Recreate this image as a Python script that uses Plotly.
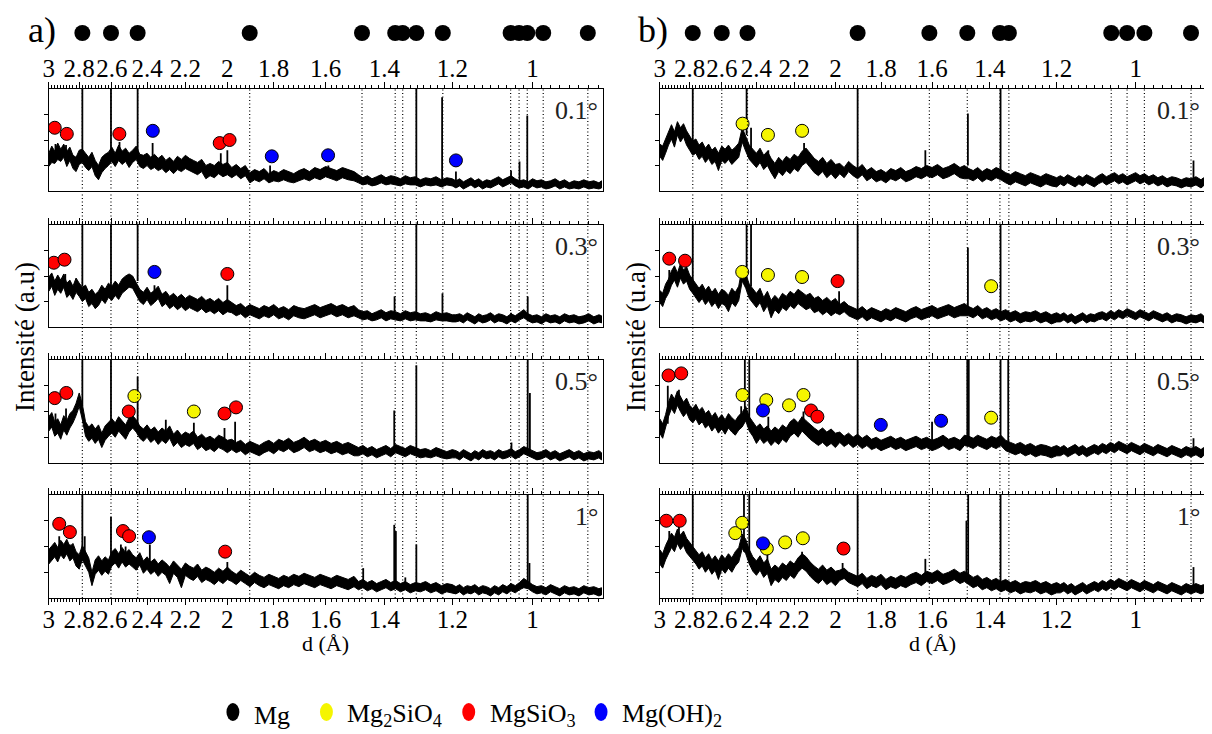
import math
import plotly.graph_objects as go

# ---------------- data ----------------
D_GRID = [
    3.00, 2.98, 2.96, 2.94, 2.92, 2.90, 2.88, 2.86, 2.84, 2.82, 2.80, 2.78, 2.76, 2.74, 2.72, 2.70, 2.68, 2.66, 2.64, 2.62, 2.60, 2.58, 2.56, 2.54, 2.52, 2.50,
    2.48, 2.46, 2.44, 2.42, 2.40, 2.38, 2.36, 2.34, 2.32, 2.30, 2.28, 2.26, 2.24, 2.22, 2.20, 2.18, 2.16, 2.14, 2.12, 2.10, 2.08, 2.06, 2.04, 2.02, 2.00,
    1.98, 1.96, 1.94, 1.92, 1.90, 1.88, 1.86, 1.84, 1.82, 1.80, 1.78, 1.76, 1.74, 1.72, 1.70, 1.68, 1.66, 1.64, 1.62, 1.60, 1.58, 1.56, 1.54, 1.52, 1.50,
    1.485, 1.47, 1.455, 1.44, 1.425, 1.41, 1.395, 1.38, 1.365, 1.35, 1.335, 1.32, 1.305, 1.29, 1.275, 1.26, 1.245, 1.23, 1.215, 1.20,
    1.19, 1.18, 1.17, 1.16, 1.15, 1.14, 1.13, 1.12, 1.11, 1.10, 1.09, 1.08, 1.07, 1.06, 1.05, 1.04, 1.03, 1.02, 1.01, 1.00,
    0.99, 0.98, 0.97, 0.96, 0.95, 0.94, 0.93, 0.92, 0.91, 0.90, 0.89, 0.88, 0.87, 0.86, 0.855,
]

# noisy background: upper / lower edge of the noise band at each grid point (a.u., 0-100)
A_01_HI = [
    37, 44, 39, 47, 41, 46, 39, 43, 35, 33, 40, 41, 37, 33, 38, 30, 25, 33, 36, 38, 43, 37, 45, 39, 42, 37,
    40, 44, 36, 35, 37, 33, 36, 32, 35, 30, 33, 29, 34, 31, 35, 32, 30, 28, 31, 25, 27, 25, 29, 26, 28,
    23, 26, 22, 25, 18, 21, 19, 22, 17, 20, 18, 21, 19, 17, 20, 22, 19, 23, 21, 24, 22, 20, 23, 21, 19,
    16, 13, 15, 12, 14, 16, 13, 15, 14, 12, 15, 13, 14, 11, 13, 12, 14, 11, 13, 12,
    10, 12, 9, 11, 13, 10, 12, 9, 11, 10, 12, 14, 11, 13, 15, 12, 10, 11, 9, 12, 10, 11, 9, 10, 12, 9, 11, 8, 10, 9, 11, 9, 10, 8, 10,
]
A_01_LO = [
    24, 28, 27, 31, 29, 33, 24, 30, 22, 19, 26, 28, 23, 20, 24, 15, 11, 18, 22, 25, 29, 24, 30, 26, 29, 23,
    28, 31, 24, 22, 25, 21, 23, 20, 22, 18, 21, 17, 21, 19, 22, 20, 18, 16, 19, 12, 15, 13, 17, 14, 16,
    13, 16, 12, 15, 8, 11, 9, 12, 8, 10, 9, 11, 9, 8, 10, 12, 10, 13, 11, 14, 12, 10, 13, 11, 10,
    8, 6, 7, 5, 6, 8, 6, 7, 6, 5, 7, 6, 6, 4, 6, 5, 6, 4, 6, 5,
    3, 5, 2, 4, 6, 3, 5, 2, 4, 3, 5, 7, 4, 6, 8, 5, 3, 4, 2, 5, 3, 4, 2, 3, 5, 2, 4, 2, 3, 2, 4, 2, 3, 2, 3,
]
A_03_HI = [
    49, 53, 45, 51, 46, 52, 43, 46, 40, 48, 43, 39, 41, 34, 37, 32, 35, 41, 37, 43, 40, 45, 41, 47, 50, 52,
    50, 44, 37, 34, 39, 33, 36, 40, 32, 35, 30, 33, 29, 32, 28, 31, 29, 27, 30, 26, 28, 25, 28, 24, 27,
    24, 21, 23, 19, 22, 20, 18, 21, 19, 22, 18, 20, 17, 21, 19, 18, 20, 22, 19, 21, 23, 20, 22, 19, 21,
    17, 15, 16, 13, 15, 17, 14, 16, 15, 13, 16, 14, 15, 13, 14, 12, 15, 13, 14, 12,
    12, 13, 11, 14, 12, 10, 13, 11, 12, 14, 11, 13, 12, 10, 13, 11, 14, 17, 13, 11, 12, 10, 13, 11, 12, 10, 13, 11, 12, 10, 11, 13, 10, 12, 11,
]
A_03_LO = [
    35, 40, 31, 37, 33, 39, 29, 32, 27, 34, 30, 25, 28, 20, 23, 18, 21, 27, 23, 29, 26, 31, 27, 33, 36, 39,
    38, 32, 25, 22, 27, 21, 24, 28, 20, 23, 18, 21, 17, 20, 16, 19, 17, 15, 18, 14, 16, 13, 16, 12, 15,
    14, 11, 13, 9, 12, 10, 8, 11, 9, 12, 8, 10, 7, 11, 9, 8, 10, 12, 9, 11, 13, 10, 12, 9, 11,
    9, 7, 8, 6, 7, 9, 6, 8, 7, 6, 8, 6, 7, 6, 6, 5, 7, 6, 6, 5,
    5, 6, 4, 7, 5, 3, 6, 4, 5, 7, 4, 6, 5, 3, 6, 4, 7, 9, 6, 4, 5, 3, 6, 4, 5, 3, 6, 4, 5, 3, 4, 6, 3, 5, 4,
]
A_05_HI = [
    45, 49, 40, 43, 37, 46, 41, 48, 51, 58, 68, 57, 40, 35, 38, 33, 37, 29, 36, 40, 43, 39, 45, 41, 37, 44,
    46, 42, 36, 33, 37, 32, 35, 30, 34, 31, 36, 28, 32, 27, 30, 28, 31, 25, 28, 24, 26, 23, 27, 25, 22,
    23, 20, 22, 18, 21, 19, 17, 20, 22, 19, 23, 21, 24, 20, 22, 25, 21, 23, 20, 22, 19, 21, 18, 20, 17,
    15, 17, 14, 16, 13, 15, 17, 14, 18, 16, 14, 17, 15, 13, 14, 12, 15, 13, 11, 13,
    12, 10, 13, 11, 9, 12, 10, 13, 11, 12, 10, 13, 11, 12, 14, 11, 13, 16, 14, 12, 10, 11, 13, 10, 12, 9, 11, 13, 10, 12, 9, 11, 10, 12, 10,
]
A_05_LO = [
    31, 35, 26, 29, 23, 32, 27, 34, 39, 46, 55, 42, 26, 21, 24, 19, 23, 15, 22, 26, 29, 25, 31, 27, 23, 30,
    34, 30, 24, 21, 25, 20, 23, 18, 22, 19, 24, 16, 20, 15, 18, 16, 19, 13, 16, 12, 14, 11, 15, 13, 10,
    13, 10, 12, 8, 11, 9, 7, 10, 12, 9, 13, 11, 14, 10, 12, 15, 11, 13, 10, 12, 9, 11, 8, 10, 7,
    7, 9, 6, 8, 5, 7, 9, 6, 10, 8, 6, 9, 7, 5, 6, 5, 7, 5, 4, 5,
    5, 3, 6, 4, 2, 5, 3, 6, 4, 5, 3, 6, 4, 5, 7, 4, 6, 9, 7, 5, 3, 4, 6, 3, 5, 2, 4, 6, 3, 5, 2, 4, 3, 5, 3,
]
A_1_HI = [
    47, 51, 54, 49, 56, 52, 57, 50, 53, 45, 42, 51, 45, 39, 25, 37, 41, 36, 40, 37, 45, 48, 43, 49, 44, 47,
    42, 39, 44, 36, 40, 35, 38, 33, 37, 34, 30, 36, 32, 28, 34, 31, 29, 33, 27, 30, 28, 25, 29, 26, 30,
    26, 23, 27, 24, 21, 25, 22, 20, 23, 21, 19, 22, 20, 23, 21, 24, 22, 20, 23, 21, 19, 22, 20, 18, 21,
    16, 18, 15, 17, 14, 16, 18, 15, 17, 14, 16, 13, 15, 14, 16, 13, 15, 12, 14, 13,
    11, 13, 10, 12, 11, 13, 10, 12, 11, 9, 12, 10, 13, 11, 14, 12, 15, 19, 16, 13, 11, 12, 10, 13, 11, 9, 12, 10, 11, 9, 12, 10, 11, 9, 10,
]
A_1_LO = [
    33, 37, 40, 35, 42, 38, 43, 36, 39, 31, 28, 37, 31, 25, 12, 23, 27, 22, 26, 23, 31, 34, 29, 35, 30, 33,
    30, 27, 32, 24, 28, 23, 26, 21, 25, 22, 14, 24, 20, 10, 22, 19, 17, 21, 15, 18, 16, 13, 17, 14, 18,
    16, 13, 17, 14, 11, 15, 12, 10, 13, 11, 9, 12, 10, 13, 11, 14, 12, 10, 13, 11, 9, 12, 10, 8, 11,
    8, 10, 7, 9, 6, 8, 10, 7, 9, 6, 8, 5, 7, 6, 8, 5, 7, 4, 6, 5,
    4, 6, 3, 5, 4, 6, 3, 5, 4, 2, 5, 3, 6, 4, 7, 5, 8, 10, 9, 6, 4, 5, 3, 6, 4, 2, 5, 3, 4, 2, 5, 3, 4, 2, 3,
]
B_01_HI = [
    46, 44, 51, 59, 65, 58, 68, 62, 66, 59, 54, 49, 51, 45, 48, 42, 46, 40, 43, 37, 44, 41, 45, 40, 43, 47,
    62, 53, 45, 41, 37, 42, 35, 39, 32, 27, 33, 29, 34, 31, 36, 33, 39, 42, 37, 32, 29, 33, 27, 31, 26,
    27, 23, 29, 25, 22, 26, 20, 23, 19, 21, 18, 22, 20, 23, 19, 21, 24, 22, 25, 23, 26, 22, 24, 27, 23,
    25, 22, 20, 23, 19, 22, 20, 23, 21, 18, 16, 19, 17, 15, 18, 16, 14, 17, 15, 13,
    15, 13, 16, 14, 12, 15, 13, 16, 14, 12, 15, 17, 14, 16, 18, 15, 17, 14, 16, 18, 15, 17, 14, 16, 13, 15, 12, 14, 13, 11, 13, 12, 14, 11, 13,
]
B_01_LO = [
    34, 30, 37, 45, 51, 43, 55, 48, 53, 45, 40, 35, 37, 31, 34, 28, 32, 26, 29, 20, 30, 27, 31, 26, 29, 33,
    48, 39, 31, 27, 23, 28, 21, 25, 18, 12, 19, 15, 20, 17, 22, 19, 25, 28, 23, 18, 15, 19, 13, 17, 12,
    17, 13, 19, 15, 12, 16, 10, 13, 9, 11, 8, 12, 10, 13, 9, 11, 14, 12, 15, 13, 16, 12, 14, 17, 13,
    12, 12, 10, 13, 9, 12, 10, 13, 11, 8, 6, 9, 7, 5, 8, 6, 4, 7, 5, 4,
    7, 5, 8, 6, 4, 7, 5, 8, 6, 4, 7, 9, 6, 8, 10, 7, 9, 6, 8, 10, 7, 9, 6, 8, 5, 7, 4, 6, 5, 3, 5, 4, 6, 3, 5,
]
B_03_HI = [
    36, 33, 42, 47, 55, 60, 53, 62, 56, 59, 51, 47, 43, 38, 42, 36, 40, 34, 38, 32, 37, 35, 31, 38, 34, 40,
    59, 52, 42, 37, 33, 38, 29, 35, 26, 31, 27, 33, 30, 35, 32, 37, 34, 31, 33, 28, 30, 26, 29, 25, 28,
    22, 25, 21, 19, 17, 20, 16, 19, 17, 15, 18, 16, 19, 17, 15, 18, 20, 17, 19, 21, 18, 20, 22, 19, 21,
    23, 20, 18, 21, 17, 19, 16, 18, 15, 17, 14, 16, 13, 15, 14, 16, 13, 15, 12, 14,
    12, 14, 11, 13, 10, 12, 14, 11, 13, 12, 14, 15, 13, 16, 14, 17, 15, 18, 16, 14, 17, 15, 13, 16, 14, 12, 14, 11, 13, 12, 10, 12, 11, 13, 11,
]
B_03_LO = [
    24, 20, 28, 33, 41, 46, 39, 48, 42, 45, 37, 33, 29, 24, 28, 22, 26, 20, 24, 18, 23, 21, 15, 24, 20, 26,
    45, 38, 28, 23, 19, 24, 15, 21, 9, 17, 13, 19, 16, 21, 18, 23, 20, 17, 19, 14, 16, 12, 15, 11, 14,
    12, 15, 11, 9, 7, 10, 6, 9, 7, 5, 8, 6, 9, 7, 5, 8, 10, 7, 9, 11, 8, 10, 12, 9, 11,
    11, 11, 9, 12, 8, 10, 7, 9, 6, 8, 5, 7, 4, 6, 5, 7, 4, 6, 3, 5,
    5, 7, 4, 6, 3, 5, 7, 4, 6, 5, 7, 8, 6, 9, 7, 10, 8, 11, 9, 7, 10, 8, 6, 9, 7, 5, 7, 4, 6, 5, 3, 5, 4, 6, 4,
]
B_05_HI = [
    43, 38, 47, 59, 67, 62, 70, 64, 59, 63, 56, 53, 57, 51, 54, 48, 51, 45, 49, 43, 47, 42, 48, 44, 41, 46,
    49, 55, 45, 40, 35, 38, 33, 36, 31, 35, 32, 37, 34, 40, 43, 39, 45, 41, 37, 34, 31, 34, 30, 33, 29,
    30, 26, 29, 25, 28, 24, 27, 23, 25, 22, 24, 26, 23, 25, 22, 24, 26, 23, 25, 22, 24, 27, 23, 25, 22,
    27, 26, 24, 27, 25, 23, 26, 24, 27, 22, 20, 18, 20, 17, 19, 16, 18, 17, 15, 17,
    15, 17, 14, 16, 18, 15, 17, 14, 16, 18, 16, 19, 17, 20, 18, 21, 19, 17, 20, 18, 16, 19, 17, 15, 18, 16, 14, 17, 15, 13, 16, 14, 16, 13, 15,
]
B_05_LO = [
    29, 24, 33, 45, 53, 48, 56, 50, 45, 49, 42, 39, 43, 37, 40, 34, 37, 31, 35, 29, 33, 28, 34, 30, 27, 32,
    35, 41, 31, 26, 19, 24, 19, 22, 17, 21, 18, 23, 20, 26, 29, 25, 31, 27, 23, 20, 17, 20, 16, 19, 15,
    20, 16, 19, 15, 18, 14, 17, 13, 15, 12, 14, 16, 13, 15, 12, 14, 16, 13, 15, 12, 14, 17, 13, 15, 12,
    17, 16, 14, 17, 15, 13, 16, 14, 17, 12, 10, 8, 10, 7, 9, 6, 8, 7, 5, 7,
    7, 9, 6, 8, 10, 7, 9, 6, 8, 10, 8, 11, 9, 12, 10, 13, 11, 9, 12, 10, 8, 11, 9, 7, 10, 8, 6, 9, 7, 5, 8, 6, 8, 5, 7,
]
B_1_HI = [
    47, 43, 51, 57, 63, 59, 67, 61, 65, 58, 54, 51, 47, 42, 45, 39, 43, 37, 41, 36, 42, 38, 43, 39, 45, 49,
    62, 57, 47, 40, 36, 41, 34, 38, 28, 32, 29, 34, 31, 36, 33, 39, 43, 40, 35, 31, 28, 32, 27, 30, 26,
    27, 29, 25, 23, 21, 24, 19, 22, 20, 23, 18, 21, 19, 22, 20, 23, 25, 22, 26, 24, 27, 23, 25, 28, 24,
    26, 23, 20, 22, 18, 20, 17, 19, 16, 18, 15, 17, 14, 16, 15, 17, 14, 16, 13, 15,
    13, 15, 12, 14, 11, 13, 15, 12, 14, 16, 14, 17, 15, 18, 16, 19, 17, 15, 18, 16, 14, 17, 15, 13, 16, 14, 12, 15, 13, 11, 14, 12, 14, 12, 13,
]
B_1_LO = [
    33, 29, 37, 43, 49, 45, 53, 47, 51, 44, 40, 37, 33, 28, 31, 25, 29, 23, 27, 18, 28, 24, 29, 25, 31, 35,
    48, 43, 33, 26, 22, 27, 20, 24, 12, 18, 15, 20, 17, 22, 19, 25, 29, 26, 21, 17, 14, 18, 13, 16, 12,
    17, 19, 15, 13, 11, 14, 9, 12, 10, 13, 8, 11, 9, 12, 10, 13, 15, 12, 16, 14, 17, 13, 15, 18, 14,
    16, 13, 10, 12, 8, 10, 7, 9, 6, 8, 5, 7, 4, 6, 5, 7, 4, 6, 3, 5,
    5, 7, 4, 6, 3, 5, 7, 4, 6, 8, 6, 9, 7, 10, 8, 11, 9, 7, 10, 8, 6, 9, 7, 5, 8, 6, 4, 7, 5, 3, 6, 4, 6, 4, 5,
]

# sharp reflections: (d, foot, top)
A_01_PEAKS = [(2.955, 33, 46), (2.885, 35, 45), (2.78, 36, 130), (2.605, 30, 130), (2.555, 33, 48),
              (2.452, 35, 130), (2.37, 30, 47), (2.03, 22, 37), (2.0, 22, 40), (1.815, 15, 25),
              (1.59, 17, 25), (1.302, 10, 130), (1.228, 9, 92), (1.19, 7, 19), (1.05, 8, 20),
              (1.03, 9, 29), (1.012, 9, 74)]
A_03_PEAKS = [(2.945, 40, 47), (2.89, 38, 52), (2.78, 40, 130), (2.605, 33, 130), (2.452, 45, 130),
              (2.36, 30, 41), (2.0, 21, 41), (1.368, 11, 30), (1.302, 11, 130), (1.227, 10, 33),
              (1.05, 8, 14), (1.011, 12, 30)]
A_05_PEAKS = [(2.955, 36, 48), (2.885, 38, 53), (2.78, 55, 130), (2.605, 33, 130), (2.505, 33, 38),
              (2.452, 36, 84), (2.30, 27, 42), (2.158, 22, 39), (2.013, 19, 34), (1.965, 18, 40),
              (1.369, 12, 51), (1.302, 12, 95), (1.049, 8, 20), (1.011, 10, 130), (1.006, 10, 68)]
A_1_PEAKS = [(2.93, 45, 60), (2.86, 44, 52), (2.78, 40, 130), (2.765, 38, 60), (2.605, 35, 79),
             (2.547, 38, 52), (2.52, 36, 50), (2.385, 30, 52), (2.0, 22, 35), (1.469, 14, 29),
             (1.369, 12, 71), (1.364, 12, 65), (1.335, 12, 20), (1.302, 11, 52), (1.011, 12, 130),
             (1.007, 11, 34)]
B_01_PEAKS = [(2.78, 42, 130), (2.455, 55, 130), (2.43, 35, 62), (2.335, 30, 40), (2.15, 33, 47),
              (1.90, 17, 130), (1.625, 18, 40), (1.473, 25, 76), (1.366, 17, 130), (0.875, 9, 30)]
B_03_PEAKS = [(2.935, 42, 56), (2.83, 45, 54), (2.78, 38, 130), (2.455, 48, 130), (2.43, 40, 130),
              (1.983, 18, 35), (1.90, 12, 130), (1.473, 15, 78), (1.366, 10, 130)]
B_05_PEAKS = [(2.945, 38, 75), (2.87, 55, 71), (2.486, 38, 55), (2.465, 45, 130), (2.44, 40, 130),
              (2.335, 27, 45), (2.153, 30, 50), (1.90, 20, 130), (1.60, 19, 40), (1.475, 20, 130),
              (1.47, 20, 130), (1.366, 20, 130), (1.342, 18, 130), (0.875, 12, 24)]
B_1_PEAKS = [(2.935, 45, 65), (2.87, 55, 69), (2.78, 40, 130), (2.47, 45, 130), (2.44, 40, 130),
             (2.34, 28, 52), (2.16, 33, 45), (1.967, 20, 34), (1.90, 16, 130), (1.625, 19, 38),
             (1.478, 20, 75), (1.472, 20, 130), (1.366, 12, 130), (0.875, 10, 30)]

# phase identification marks: (phase, d, height)
A_01_MARKS = [("MgSiO3", 2.96, 62), ("MgSiO3", 2.88, 56), ("MgSiO3", 2.556, 56), ("Mg(OH)2", 2.369, 59),
              ("MgSiO3", 2.035, 47), ("MgSiO3", 1.99, 50), ("Mg(OH)2", 1.808, 34), ("Mg(OH)2", 1.591, 35),
              ("Mg(OH)2", 1.19, 30)]
A_03_MARKS = [("MgSiO3", 2.966, 63), ("MgSiO3", 2.895, 66), ("Mg(OH)2", 2.36, 54), ("MgSiO3", 2.0, 52)]
A_05_MARKS = [("MgSiO3", 2.96, 63), ("MgSiO3", 2.883, 68), ("MgSiO3", 2.502, 50), ("Mg2SiO4", 2.47, 65),
              ("Mg2SiO4", 2.158, 50), ("MgSiO3", 2.013, 48), ("MgSiO3", 1.961, 54)]
A_1_MARKS = [("MgSiO3", 2.93, 72), ("MgSiO3", 2.86, 64), ("MgSiO3", 2.535, 65), ("MgSiO3", 2.50, 60),
             ("Mg(OH)2", 2.39, 59), ("MgSiO3", 2.01, 45)]
B_01_MARKS = [("Mg2SiO4", 2.478, 66), ("Mg2SiO4", 2.337, 55), ("Mg2SiO4", 2.16, 59)]
B_03_MARKS = [("MgSiO3", 2.935, 67), ("MgSiO3", 2.83, 65), ("Mg2SiO4", 2.48, 54), ("Mg2SiO4", 2.337, 51),
              ("Mg2SiO4", 2.16, 49), ("MgSiO3", 1.99, 45), ("Mg2SiO4", 1.396, 40)]
B_05_MARKS = [("MgSiO3", 2.94, 85), ("MgSiO3", 2.855, 87), ("Mg2SiO4", 2.478, 66), ("Mg2SiO4", 2.346, 61),
              ("Mg(OH)2", 2.364, 51), ("Mg2SiO4", 2.226, 56), ("Mg2SiO4", 2.153, 66), ("MgSiO3", 2.116, 51),
              ("MgSiO3", 2.085, 45), ("Mg(OH)2", 1.801, 37), ("Mg(OH)2", 1.567, 41), ("Mg2SiO4", 1.396, 44)]
B_1_MARKS = [("MgSiO3", 2.955, 75), ("MgSiO3", 2.865, 75), ("Mg2SiO4", 2.52, 63), ("Mg2SiO4", 2.48, 73),
             ("Mg(OH)2", 2.364, 53), ("Mg2SiO4", 2.343, 48), ("Mg2SiO4", 2.246, 54), ("Mg2SiO4", 2.156, 58),
             ("MgSiO3", 1.963, 48)]

# Mg reference reflections (d, Angstrom)
MG_A = [2.78, 2.605, 2.452, 1.901, 1.473, 1.366, 1.343, 1.302, 1.226, 1.051, 1.031, 1.012, 0.976, 0.882]
MG_B = [2.78, 2.60, 2.45, 1.90, 1.61, 1.475, 1.368, 1.340, 1.058, 1.02, 0.98, 0.880]

SAMPLES = ["0.1°", "0.3°", "0.5°", "1°"]
TICK_VALS = [3, 2.8, 2.6, 2.4, 2.2, 2, 1.8, 1.6, 1.4, 1.2, 1]
TICK_TEXT = ["3", "2.8", "2.6", "2.4", "2.2", "2", "1.8", "1.6", "1.4", "1.2", "1"]
PHASES = ["Mg", "Mg2SiO4", "MgSiO3", "Mg(OH)2"]
PHASE_LABELS = ["Mg", "Mg<sub>2</sub>SiO<sub>4</sub>", "MgSiO<sub>3</sub>", "Mg(OH)<sub>2</sub>"]
PHASE_COLORS = ["#000000", "#F5F500", "#FF0000", "#0000FF"]
PANEL_LABELS = ["a)", "b)"]
Y_TITLES = ["Intensité (a.u)", "Intensité (u.a)"]

PANELS = [
    dict(hi=[A_01_HI, A_03_HI, A_05_HI, A_1_HI], lo=[A_01_LO, A_03_LO, A_05_LO, A_1_LO],
         peaks=[A_01_PEAKS, A_03_PEAKS, A_05_PEAKS, A_1_PEAKS],
         marks=[A_01_MARKS, A_03_MARKS, A_05_MARKS, A_1_MARKS], mg=MG_A),
    dict(hi=[B_01_HI, B_03_HI, B_05_HI, B_1_HI], lo=[B_01_LO, B_03_LO, B_05_LO, B_1_LO],
         peaks=[B_01_PEAKS, B_03_PEAKS, B_05_PEAKS, B_1_PEAKS],
         marks=[B_01_MARKS, B_03_MARKS, B_05_MARKS, B_1_MARKS], mg=MG_B),
]

# ---------------- layout geometry ----------------
W, H = 1212, 734
OFF = 8  # page body margin
FW, FH = W - OFF, H - OFF
SERIF = "Liberation Serif"
ROWS_PX = [(89, 191), (225, 327), (360, 463), (495, 598)]
PANELS_PX = [(43, 600), (657, 1205)]
XR = [math.log10(3.0), math.log10(0.852)]


def px(x):
    return (x - OFF) / FW


def py(y):
    return 1 - (y - OFF) / FH


minor_vals = [round(3 - 0.02 * k, 2) for k in range(1, 108)]

fig = go.Figure()
layout = dict(width=FW, height=FH, margin=dict(l=0, r=0, t=0, b=0), paper_bgcolor="white",
              plot_bgcolor="rgba(0,0,0,0)", showlegend=False, shapes=[], annotations=[])

color_of = dict(zip(PHASES, PHASE_COLORS))

for p, panel in enumerate(PANELS):
    x0p, x1p = PANELS_PX[p]
    for r in range(4):
        idx = p * 4 + r + 1
        sfx = "" if idx == 1 else str(idx)
        xa, ya = "x" + sfx, "y" + sfx
        top, bot = ROWS_PX[r]
        last = r == 3
        layout["xaxis" + sfx] = dict(
            type="log", range=XR, domain=[px(x0p), px(x1p)], anchor=ya,
            side="bottom" if last else "top", mirror="ticks" if last else True,
            showline=True, linecolor="black", linewidth=1,
            ticks="outside", ticklen=6, tickwidth=1, tickcolor="black",
            tickmode="array", tickvals=TICK_VALS, ticktext=TICK_TEXT, tickangle=0,
            showticklabels=(r == 0 or last), ticklabelstandoff=(-7 if last else -5),
            tickfont=dict(family=SERIF, size=25, color="black"),
            showgrid=False, zeroline=False, fixedrange=True,
            minor=dict(tickmode="array", tickvals=minor_vals, ticklen=3, ticks="outside",
                       tickcolor="black", tickwidth=1, showgrid=False),
        )
        layout["yaxis" + sfx] = dict(
            domain=[py(bot), py(top)], anchor=xa, range=[0, 100],
            showline=True, linecolor="black", linewidth=1, mirror=True,
            ticks="outside", ticklen=4, tickcolor="black", tickvals=[25, 50, 75],
            showticklabels=False, showgrid=False, zeroline=False, fixedrange=True,
        )
        # noisy background: filled band between lower and upper noise edges
        hi, lo = panel["hi"][r], panel["lo"][r]
        fig.add_trace(go.Scatter(x=D_GRID + D_GRID[::-1], y=hi + lo[::-1], mode="lines",
                                 fill="toself", fillcolor="black",
                                 line=dict(color="black", width=1), xaxis=xa, yaxis=ya,
                                 hoverinfo="skip"))
        # sharp reflections
        sx, sy = [], []
        for d, foot, tp in panel["peaks"][r]:
            sx += [d, d, None]
            sy += [foot, tp, None]
        fig.add_trace(go.Scatter(x=sx, y=sy, mode="lines", line=dict(color="black", width=1.8),
                                 xaxis=xa, yaxis=ya, hoverinfo="skip"))
        # phase marks
        for ph in ["Mg2SiO4", "MgSiO3", "Mg(OH)2"]:
            pts = [(d, h) for (phs, d, h) in panel["marks"][r] if phs == ph]
            if not pts:
                continue
            fig.add_trace(go.Scatter(x=[q[0] for q in pts], y=[q[1] for q in pts], mode="markers",
                                     marker=dict(size=13, color=color_of[ph],
                                                 line=dict(color="black", width=1)),
                                     xaxis=xa, yaxis=ya, hoverinfo="skip"))
        layout["annotations"].append(dict(
            text=SAMPLES[r], xref=xa + " domain", yref=ya + " domain", x=0.995, y=0.79,
            xanchor="right", yanchor="middle", showarrow=False,
            font=dict(family=SERIF, size=26, color="#222222")))

    # Mg reference dots above the panel
    sfx = str(9 + p)
    layout["xaxis" + sfx] = dict(type="log", range=XR, domain=[px(x0p), px(x1p)], anchor="y" + sfx,
                                 visible=False, fixedrange=True)
    layout["yaxis" + sfx] = dict(domain=[py(48), py(18)], range=[-1, 1], anchor="x" + sfx,
                                 visible=False, fixedrange=True)
    fig.add_trace(go.Scatter(x=panel["mg"], y=[0] * len(panel["mg"]), mode="markers",
                             marker=dict(size=16, color="black"), xaxis="x" + sfx, yaxis="y" + sfx,
                             hoverinfo="skip"))

    # Mg dotted guide lines through the whole stack
    sfx = str(11 + p)
    layout["xaxis" + sfx] = dict(type="log", range=XR, domain=[px(x0p), px(x1p)], anchor="y" + sfx,
                                 visible=False, fixedrange=True)
    layout["yaxis" + sfx] = dict(domain=[py(ROWS_PX[3][1]), py(ROWS_PX[0][0])], range=[0, 1],
                                 anchor="x" + sfx, visible=False, fixedrange=True)
    gx, gy = [], []
    for d in panel["mg"]:
        gx += [d, d, None]
        gy += [0, 1, None]
    fig.add_trace(go.Scatter(x=gx, y=gy, mode="lines",
                             line=dict(color="black", width=1.2, dash="1px,2.5px"),
                             xaxis="x" + sfx, yaxis="y" + sfx, hoverinfo="skip"))

    cx = (x0p + x1p) / 2
    layout["annotations"].append(dict(text="d (Å)", xref="paper", yref="paper", x=px(cx), y=py(643),
                                      xanchor="center", yanchor="middle", showarrow=False,
                                      font=dict(family=SERIF, size=22, color="black")))
    layout["annotations"].append(dict(text=Y_TITLES[p], xref="paper", yref="paper",
                                      x=px(x0p - 24), y=py(337), textangle=-90,
                                      xanchor="center", yanchor="middle", showarrow=False,
                                      font=dict(family=SERIF, size=27, color="black")))
    layout["annotations"].append(dict(text=PANEL_LABELS[p], xref="paper", yref="paper",
                                      x=px(x0p - 7), y=py(30), xanchor="center", yanchor="middle",
                                      showarrow=False, font=dict(family=SERIF, size=36, color="black")))

# legend (drawn manually)
LEG_DOT_X = [228, 322, 465, 598]
for i, lab in enumerate(PHASE_LABELS):
    cxp = LEG_DOT_X[i]
    layout["shapes"].append(dict(type="circle", xref="paper", yref="paper",
                                 x0=px(cxp - 6.5), x1=px(cxp + 6.5), y0=py(721), y1=py(703),
                                 fillcolor=PHASE_COLORS[i], line=dict(width=0)))
    layout["annotations"].append(dict(text=lab, xref="paper", yref="paper", x=px(cxp + 19), y=py(715),
                                      xanchor="left", yanchor="middle", showarrow=False,
                                      font=dict(family=SERIF, size=26, color="black")))

fig.update_layout(**layout)
fig.write_html("out.html")
